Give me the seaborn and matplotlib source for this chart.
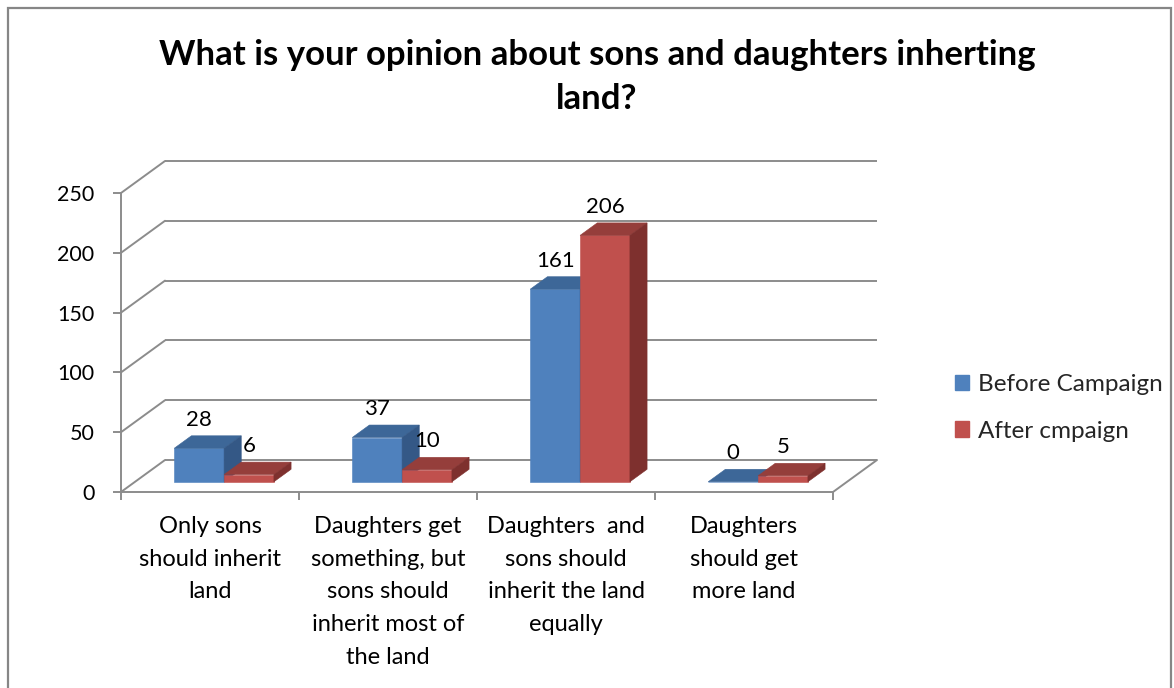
import numpy as np
import pandas as pd
import matplotlib
matplotlib.use("Agg")
import matplotlib.pyplot as plt
from matplotlib.patches import Polygon, Patch, Rectangle
import seaborn as sns

# ---------------- data ----------------
categories = [
    "Only sons\nshould inherit\nland",
    "Daughters get\nsomething, but\nsons should\ninherit most of\nthe land",
    "Daughters  and\nsons should\ninherit the land\nequally",
    "Daughters\nshould get\nmore land",
]
series = ["Before Campaign", "After cmpaign"]
before = [28, 37, 161, 0]
after = [6, 10, 206, 5]
yticks = [0, 50, 100, 150, 200, 250]
title = "What is your opinion about sons and daughters inherting\nland?"

# ---------------- style ----------------
front_colors = ["#4F81BD", "#C0504D"]
top_colors = ["#3D6798", "#953E3B"]
side_colors = ["#345886", "#7E302E"]
grid_color = "#8C8C8C"

sns.set_style("white")
plt.rcParams["font.family"] = ["Lato", "DejaVu Sans"]

W, H = 1174, 688
fig = plt.figure(figsize=(W / 100, H / 100), dpi=100)
ax = fig.add_axes([121 / W, 196 / H, 712 / W, 299 / H])

df = pd.DataFrame({
    "category": categories * 2,
    "series": [series[0]] * len(categories) + [series[1]] * len(categories),
    "value": before + after,
})

sns.barplot(data=df, x="category", y="value", hue="series", order=categories,
            hue_order=series, palette=front_colors, width=0.56, dodge=True,
            saturation=1, errorbar=None, legend=False, ax=ax)

ax.set_xlim(-0.5, 3.5)
ax.set_ylim(0, 250)

# oblique projection constants (depth direction in data units)
DX = 44 / 178.0
DY = 32 * 250 / 299.0
D0 = 0.32   # bar front plane depth
DD = 0.39   # bar depth

# back wall grid + left wall diagonals + floor right edge
for y in yticks:
    ax.plot([-0.5 + DX, 3.5 + DX], [y + DY, y + DY], color=grid_color, lw=1.4,
            clip_on=False, zorder=0.5, solid_capstyle="butt")
    ax.plot([-0.5, -0.5 + DX], [y, y + DY], color=grid_color, lw=1.4,
            clip_on=False, zorder=0.5)
ax.plot([3.5, 3.5 + DX], [0, DY], color=grid_color, lw=1.4, clip_on=False, zorder=0.5)

# 3D bar faces
for k, cont in enumerate(ax.containers):
    for rect in cont:
        x0 = rect.get_x() + D0 * DX
        w = rect.get_width()
        h = rect.get_height()
        b = D0 * DY
        rect.set_x(x0)
        rect.set_y(b)
        rect.set_clip_on(False)
        rect.set_zorder(2 + k)
        rect.set_edgecolor(front_colors[k])
        rect.set_linewidth(0.4)
        xl, xr, yt = x0, x0 + w, b + h
        top = Polygon([(xl, yt), (xr, yt), (xr + DD * DX, yt + DD * DY),
                       (xl + DD * DX, yt + DD * DY)], closed=True,
                      facecolor=top_colors[k], edgecolor=top_colors[k], lw=0.4,
                      clip_on=False, zorder=2 + k)
        side = Polygon([(xr, b), (xr, yt), (xr + DD * DX, yt + DD * DY),
                        (xr + DD * DX, b + DD * DY)], closed=True,
                       facecolor=side_colors[k], edgecolor=side_colors[k], lw=0.4,
                       clip_on=False, zorder=2 + k)
        ax.add_patch(top)
        ax.add_patch(side)
        ax.annotate(f"{h:.0f}", xy=(xl + w / 2, yt + DD * DY), xytext=(0, 6),
                    textcoords="offset pixels", ha="center", va="bottom",
                    fontsize=16, color="#000000", zorder=10, annotation_clip=False)

# axes styling
for s in ["top", "right"]:
    ax.spines[s].set_visible(False)
for s in ["left", "bottom"]:
    ax.spines[s].set_color(grid_color)
    ax.spines[s].set_linewidth(1.4)
ax.set_xlabel("")
ax.set_ylabel("")
ax.set_yticks(yticks)
ax.set_yticklabels([str(v) for v in yticks])
ax.set_xticks([-0.5, 0.5, 1.5, 2.5, 3.5])
ax.set_xticklabels([""] * 5)
ax.set_xticks(range(len(categories)), labels=categories, minor=True)
ax.tick_params(axis="y", left=True, length=6, width=1.4, color=grid_color,
               pad=13, labelsize=15.5, labelcolor="#000000")
ax.tick_params(axis="x", which="major", bottom=True, length=6, width=1.4,
               color=grid_color)
ax.tick_params(axis="x", which="minor", bottom=True, length=0, pad=17.5,
               labelsize=17, labelcolor="#000000")
for lab in ax.get_xticklabels(minor=True):
    lab.set_linespacing(1.68)
ax.set_facecolor("none")
ax.grid(False)

# legend
handles = [Patch(facecolor=c, edgecolor=c) for c in front_colors]
fig.legend(handles=handles, labels=series, loc="center left",
           bbox_to_anchor=(933 / W, 1 - 408 / H), frameon=False, fontsize=17.5,
           handlelength=0.6, handleheight=0.6, handletextpad=0.35,
           labelspacing=1.05)

# title
fig.text(597 / W, 1 - 77 / H, title, ha="center", va="center", fontsize=25,
         fontweight="bold", linespacing=1.45, color="#000000")

# chart border
fig.add_artist(Rectangle((8 / W, -0.05), (1171 - 8) / W, (H - 8) / H + 0.05,
                         transform=fig.transFigure, fill=False,
                         edgecolor="#868686", lw=1.6))

fig.savefig("out.png", dpi=100)
